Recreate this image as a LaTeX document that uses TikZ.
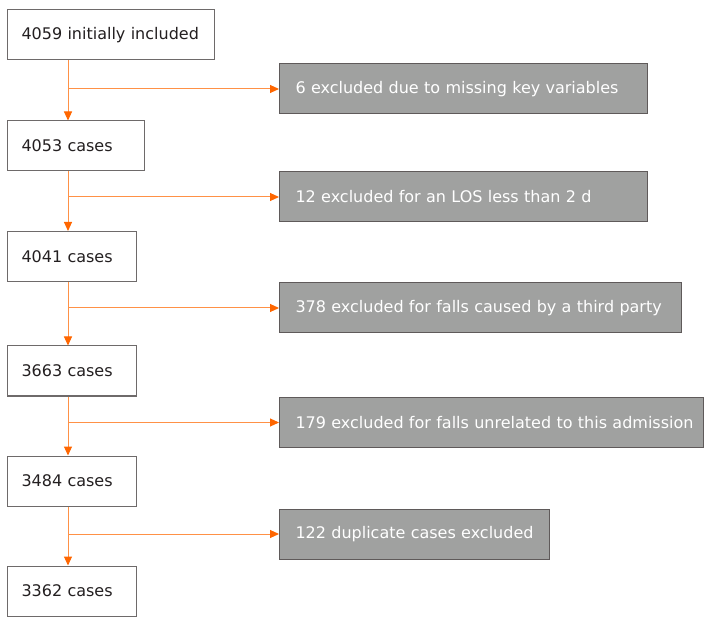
\documentclass[tikz,border=0pt]{standalone}
\usepackage{fontspec}
\setmainfont{DejaVu Sans}
\usetikzlibrary{arrows.meta}
\definecolor{floworange}{RGB}{255,145,70}
\definecolor{tiporange}{RGB}{255,102,0}
\definecolor{exgray}{RGB}{160,161,160}
\definecolor{exborder}{RGB}{95,90,90}
\definecolor{caseborder}{RGB}{110,106,106}
\definecolor{casetext}{RGB}{35,31,32}
\tikzset{
  casebox/.style={draw=caseborder, line width=1pt, anchor=west, minimum height=50pt,
    text width=#1, align=left, inner xsep=14pt, text=casetext,
    font=\fontsize{16}{19}\selectfont,
    execute at begin node=\hbox\bgroup, execute at end node=\egroup},
  exbox/.style={casebox=#1, draw=exborder, fill=exgray, text=white, inner xsep=16pt},
  flow/.style={draw=floworange, line width=1pt, -{Triangle[length=9pt,width=8pt,color=tiporange]}},
}
\begin{document}
\begin{tikzpicture}[x=1pt,y=-1pt]
\useasboundingbox (0,0) rectangle (704,617);
\coordinate (trunk) at (68,0);
% cases kept
\node[casebox=179] (a1) at (7,35) {4059 initially included};
\node[casebox=109] (a2) at (7,146) {4053 cases};
\node[casebox=101] (a3) at (7,256.5) {4041 cases};
\node[casebox=101] (a4) at (7,371) {3663 cases};
\node[casebox=101] (a5) at (7,481) {3484 cases};
\node[casebox=101] (a6) at (7,591) {3362 cases};
% exclusions
\node[exbox=336] (e1) at (279,89) {6 excluded due to missing key variables};
\node[exbox=336] (e2) at (279,197) {12 excluded for an LOS less than 2 d};
\node[exbox=370] (e3) at (279,308) {378 excluded for falls caused by a third party};
\node[exbox=392] (e4) at (279,422.5) {179 excluded for falls unrelated to this admission};
\node[exbox=238] (e5) at (279,534) {122 duplicate cases excluded};
% arrows
\draw[flow] (a1.south -| trunk) -- (a2.north -| trunk);
\draw[flow] (a2.south -| trunk) -- (a3.north -| trunk);
\draw[flow] (a3.south -| trunk) -- (a4.north -| trunk);
\draw[flow] (a4.south -| trunk) -- (a5.north -| trunk);
\draw[flow] (a5.south -| trunk) -- (a6.north -| trunk);
\draw[flow] (e1.west -| trunk) -- (e1.west);
\draw[flow] (e2.west -| trunk) -- (e2.west);
\draw[flow] (e3.west -| trunk) -- (e3.west);
\draw[flow] (e4.west -| trunk) -- (e4.west);
\draw[flow] (e5.west -| trunk) -- (e5.west);
\end{tikzpicture}
\end{document}
